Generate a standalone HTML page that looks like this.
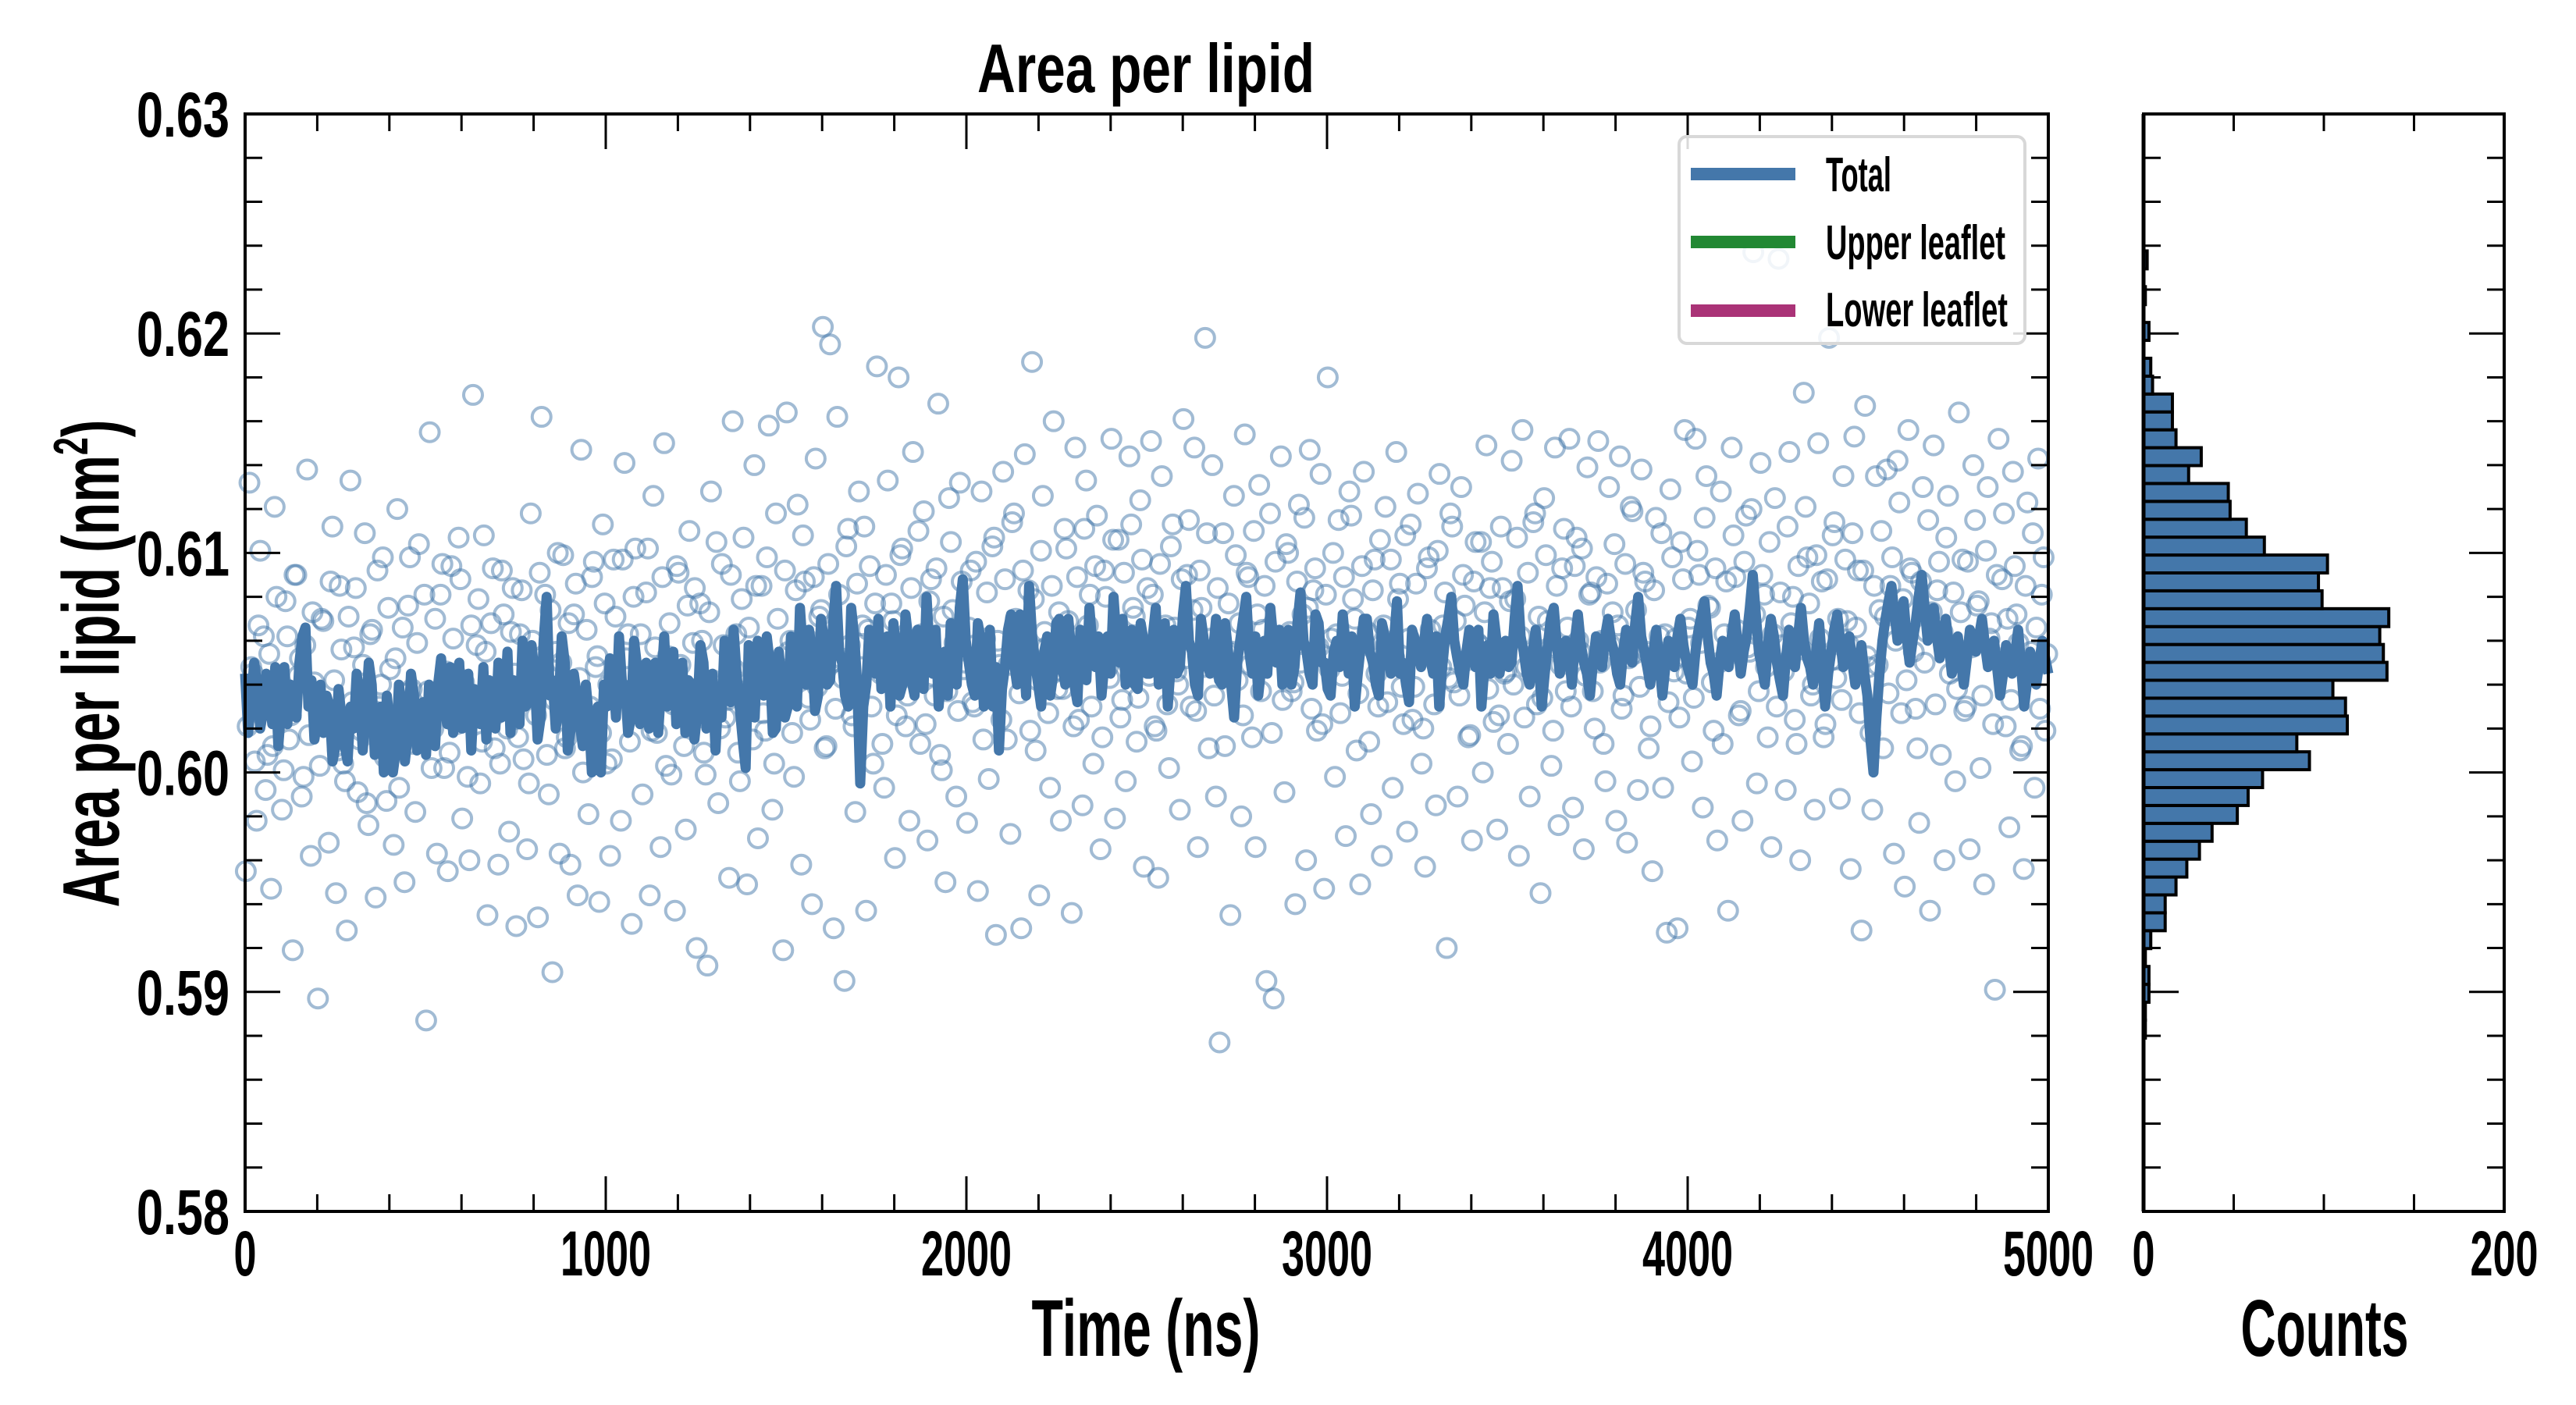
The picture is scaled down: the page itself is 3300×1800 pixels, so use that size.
<!DOCTYPE html>
<html><head><meta charset="utf-8"><style>
html,body{margin:0;padding:0;background:#fff;}
svg{display:block;}
text{font-family:"Liberation Sans Narrow","Liberation Sans",sans-serif;font-weight:bold;fill:#000;}
</style></head><body>
<svg id="chart" width="3300" height="1800" viewBox="0 0 3300 1800" xmlns="http://www.w3.org/2000/svg">
<g id="main"></g>
<g id="hist"></g>
</svg>
<script>
const scatterValues = [
0.5955,0.6132,0.6045,0.5978,0.6101,0.6062,0.6008,0.5947,0.6121,0.6033,0.5983,0.6078,0.6015,0.5919,0.6090,0.6052,0.5998,0.6138,0.5962,0.6041,0.5897,0.6070,0.6024,0.5968,0.6112,
0.5945,0.6085,0.6004,0.5928,0.6133,0.6057,0.5991,0.6019,0.6109,0.5976,0.6065,0.5943,0.6030,0.6098,0.5987,0.6047,0.5967,0.6120,0.6012,0.5950,0.6076,0.6038,0.5982,0.6104,0.6027,
0.5887,0.6155,0.6020,0.5963,0.6081,0.6002,0.5955,0.6094,0.6045,0.6107,0.5979,0.6036,0.5960,0.6172,0.6058,0.5995,0.6108,0.5935,0.6068,0.6011,0.5958,0.6092,0.6029,0.5973,0.6084,
0.5930,0.6063,0.6006,0.5965,0.6118,0.6040,0.5934,0.6162,0.6081,0.5990,0.5909,0.6055,0.5963,0.6099,0.6016,0.5958,0.6072,0.5944,0.6147,0.6025,0.5981,0.6089,0.6048,0.5941,0.6113,
0.6004,0.5962,0.6097,0.6035,0.5978,0.6141,0.6063,0.5931,0.6102,0.6046,0.5990,0.6082,0.5944,0.6126,0.6018,0.5966,0.6150,0.6053,0.5999,0.5937,0.6091,0.6032,0.5974,0.6110,0.6059,
0.5920,0.6077,0.6009,0.5912,0.6128,0.6040,0.5986,0.6095,0.6025,0.5952,0.6160,0.6063,0.5996,0.6107,0.5949,0.6037,0.6140,0.5970,0.6085,0.6019,0.6158,0.5983,0.6118,0.6044,0.5919,
0.6164,0.6060,0.5998,0.6122,0.5958,0.6087,0.6034,0.5940,0.6143,0.6071,0.6203,0.6012,0.6195,0.5929,0.6162,0.6052,0.5905,0.6111,0.6026,0.5982,0.6128,0.6067,0.5937,0.6094,0.6004,
0.6185,0.6045,0.5993,0.6133,0.6077,0.5961,0.6180,0.6102,0.6021,0.5978,0.6146,0.6058,0.6013,0.6119,0.5969,0.6088,0.6035,0.6168,0.6001,0.5950,0.6125,0.6074,0.5989,0.6132,0.6047,
0.5977,0.6092,0.6030,0.5946,0.6128,0.6061,0.5997,0.6103,0.5926,0.6049,0.6137,0.6015,0.5972,0.6118,0.6066,0.5929,0.6145,0.6083,0.6187,0.6010,0.5944,0.6126,0.6057,0.5993,0.6160,
0.6038,0.5978,0.6111,0.6069,0.5936,0.6148,0.6024,0.5985,0.6133,0.6081,0.6004,0.6117,0.5965,0.6092,0.6048,0.6152,0.5979,0.6106,0.6033,0.5996,0.6144,0.6075,0.6014,0.6124,0.5957,
0.6084,0.6151,0.6021,0.5952,0.6135,0.6067,0.6002,0.6113,0.6046,0.5983,0.6161,0.6090,0.6030,0.6148,0.5966,0.6075,0.6198,0.6011,0.6140,0.5989,0.5877,0.6109,0.6055,0.5935,0.6126,
0.6042,0.5980,0.6154,0.6089,0.6016,0.5966,0.6131,0.6065,0.5905,0.6118,0.5897,0.6059,0.6144,0.5991,0.6100,0.6037,0.5940,0.6122,0.6072,0.5960,0.6147,0.6083,0.6019,0.6136,0.5947,
0.6180,0.6061,0.5998,0.6115,0.6044,0.5971,0.6128,0.6079,0.6010,0.5949,0.6137,0.6064,0.5981,0.6097,0.6030,0.5962,0.6121,0.6052,0.5993,0.6146,0.6086,0.6022,0.5973,0.6113,0.6039,
0.6127,0.6004,0.5957,0.6098,0.6052,0.5985,0.6136,0.6067,0.5920,0.6118,0.6041,0.5989,0.6130,0.6076,0.6016,0.5969,0.6105,0.6058,0.6000,0.6149,0.6084,0.6023,0.5974,0.6112,0.6045,
0.6013,0.6142,0.6079,0.5962,0.6156,0.6048,0.5989,0.6114,0.6031,0.5945,0.6125,0.6069,0.6003,0.6148,0.5976,0.6093,0.6037,0.6152,0.5984,0.6107,0.6055,0.5965,0.6139,0.6082,0.6020,
0.6151,0.6060,0.5996,0.6130,0.6073,0.5978,0.6144,0.6035,0.5968,0.6121,0.6054,0.5992,0.6138,0.6087,0.6011,0.5955,0.6116,0.6062,0.5993,0.5927,0.6129,0.6046,0.5929,0.6105,0.6156,
0.6066,0.6005,0.6152,0.6090,0.5984,0.6135,0.6075,0.6019,0.5969,0.6128,0.6063,0.5937,0.6148,0.6089,0.6026,0.5978,0.6117,0.6055,0.6237,0.5995,0.6141,0.6081,0.6016,0.5966,0.6125,
0.6234,0.6058,0.5992,0.6146,0.6080,0.6013,0.5960,0.6173,0.6098,0.6035,0.5983,0.6150,0.6087,0.6022,0.6198,0.6108,0.6043,0.5988,0.6135,0.6069,0.5956,0.6153,0.6092,0.5928,0.6167,
0.6048,0.5983,0.6135,0.6074,0.6011,0.6138,0.6085,0.5963,0.6142,0.6027,0.5948,0.6156,0.6091,0.6029,0.5977,0.6130,0.6064,0.5937,0.6149,0.6083,0.6008,0.5960,0.6126,0.6058,0.5996,
0.6164,0.6097,0.6030,0.5965,0.6140,0.6076,0.6002,0.5949,0.6130,0.6068,0.5901,0.6152,0.6088,0.6021,0.5975,0.6137,0.6072,0.6010,0.5956,0.6123,0.6055,0.5993,0.6143,0.6081,0.6019
];
const scatterValues2 = [
0.6021,0.6048,0.6005,0.6067,0.6030,0.5992,0.6054,0.6012,0.6080,0.6039,0.6001,0.6062,0.6026,0.6090,0.6044,0.5989,0.6058,0.6017,0.6073,0.6034,0.6003,0.6069,0.6025,0.6087,0.6042,
0.6010,0.6056,0.5996,0.6071,0.6032,0.6084,0.6015,0.6049,0.5986,0.6063,0.6028,0.6092,0.6040,0.6007,0.6075,0.6019,0.6052,0.5993,0.6066,0.6036,0.6098,0.6013,0.6059,0.6024,0.6081,
0.6037,0.6002,0.6070,0.6029,0.6095,0.6046,0.6009,0.6061,0.6022,0.6088,0.6041,0.5998,0.6067,0.6031,0.6079,0.6014,0.6055,0.6027,0.6093,0.6038,0.6004,0.6072,0.6020,0.6064,0.6045,
0.6016,0.6083,0.6035,0.5995,0.6060,0.6026,0.6091,0.6047,0.6008,0.6074,0.6033,0.6100,0.6050,0.6011,0.6068,0.6023,0.6086,0.6043,0.6000,0.6065,0.6030,0.6096,0.6053,0.6018,0.6077,
0.6040,0.6006,0.6071,0.6034,0.6097,0.6052,0.6014,0.6080,0.6028,0.6063,0.6045,0.6102,0.6019,0.6057,0.6036,0.6089,0.6003,0.6068,0.6031,0.6094,0.6049,0.6012,0.6076,0.6038,0.6084,
0.6025,0.6060,0.5999,0.6073,0.6042,0.6105,0.6020,0.6058,0.6033,0.6090,0.6047,0.6009,0.6079,0.6037,0.6066,0.6015,0.6085,0.6051,0.6027,0.6098,0.6044,0.6004,0.6070,0.6032,0.6092,
0.6055,0.6018,0.6083,0.6046,0.6108,0.6061,0.6024,0.6089,0.6039,0.6074,0.6011,0.6095,0.6050,0.6029,0.6081,0.6043,0.6103,0.6058,0.6021,0.6086,0.6048,0.6112,0.6065,0.6030,0.6077,
0.6052,0.6013,0.6090,0.6041,0.6069,0.6026,0.6099,0.6057,0.6035,0.6084,0.6047,0.6110,0.6063,0.6022,0.6078,0.6044,0.6093,0.6008,0.6071,0.6037,0.6105,0.6059,0.6028,0.6087,0.6050,
0.6066,0.6032,0.6096,0.6053,0.6015,0.6082,0.6045,0.6107,0.6060,0.6024,0.6088,0.6049,0.6114,0.6070,0.6036,0.6092,0.6055,0.6019,0.6079,0.6042,0.6101,0.6064,0.6027,0.6085,0.6051,
0.6073,0.6038,0.6102,0.6058,0.6021,0.6089,0.6047,0.6111,0.6067,0.6030,0.6094,0.6054,0.6016,0.6080,0.6043,0.6106,0.6062,0.6025,0.6091,0.6050,0.6113,0.6071,0.6034,0.6097,0.6056,
0.6044,0.6081,0.6019,0.6095,0.6057,0.6031,0.6103,0.6066,0.6040,0.6088,0.6052,0.6115,0.6074,0.6028,0.6092,0.6048,0.6109,0.6061,0.6035,0.6084,0.6046,0.6012,0.6077,0.6055,0.6099,
0.6068,0.6026,0.6091,0.6049,0.6110,0.6072,0.6037,0.6085,0.6053,0.6018,0.6096,0.6060,0.6033,0.6104,0.6064,0.6041,0.6087,0.6050,0.6116,0.6075,0.6029,0.6093,0.6057,0.6022,0.6081,
0.6047,0.6100,0.6063,0.6027,0.6089,0.6054,0.6117,0.6070,0.6036,0.6094,0.6058,0.6014,0.6083,0.6045,0.6106,0.6067,0.6032,0.6097,0.6052,0.6079,0.6039,0.6108,0.6061,0.6024,0.6086,
0.6056,0.6020,0.6093,0.6065,0.6031,0.6101,0.6048,0.6082,0.6043,0.6112,0.6069,0.6035,0.6090,0.6051,0.6017,0.6087,0.6059,0.6105,0.6073,0.6038,0.6096,0.6054,0.6026,0.6084,0.6046,
0.6078,0.6040,0.6107,0.6062,0.6025,0.6091,0.6053,0.6118,0.6071,0.6034,0.6099,0.6057,0.6019,0.6085,0.6049,0.6111,0.6066,0.6030,0.6094,0.6060,0.6102,0.6044,0.6081,0.6037,0.6089,
0.6050,0.6013,0.6086,0.6058,0.6104,0.6067,0.6029,0.6095,0.6052,0.6119,0.6074,0.6039,0.6091,0.6055,0.6021,0.6083,0.6047,0.6109,0.6063,0.6032,0.6098,0.6061,0.6025,0.6088,0.6045,
0.6070,0.6034,0.6101,0.6059,0.6116,0.6076,0.6041,0.6093,0.6050,0.6013,0.6087,0.6054,0.6108,0.6065,0.6028,0.6096,0.6057,0.6120,0.6072,0.6037,0.6090,0.6048,0.6105,0.6063,0.6030,
0.6082,0.6046,0.6112,0.6068,0.6024,0.6094,0.6056,0.6121,0.6077,0.6040,0.6099,0.6061,0.6016,0.6088,0.6051,0.6114,0.6070,0.6033,0.6097,0.6058,0.6109,0.6066,0.6027,0.6092,0.6053,
0.6018,0.6085,0.6049,0.6110,0.6071,0.6036,0.6098,0.6060,0.6123,0.6079,0.6042,0.6093,0.6055,0.6011,0.6087,0.6050,0.6115,0.6073,0.6031,0.6096,0.6064,0.6107,0.6045,0.6082,0.6038,
0.6073,0.6028,0.6096,0.6057,0.6115,0.6078,0.6035,0.6101,0.6061,0.6022,0.6090,0.6052,0.6118,0.6070,0.6033,0.6094,0.6059,0.6012,0.6085,0.6047,0.6109,0.6066,0.6029,0.6098,0.6054
];
const scatterTimeStep = 10; // ns
const totalLine = [
0.6045,0.6032,0.6040,0.6028,0.6035,0.6048,0.6030,0.6022,0.6038,0.6050,0.6066,0.6042,0.6025,0.6018,0.6030,0.6012,0.6025,0.6005,0.6020,0.6035,0.6028,0.6040,0.6015,0.6000,0.6022,0.6010,0.6030,0.6018,0.6035,0.6020,
0.6008,0.6025,0.6040,0.6030,0.6048,0.6032,0.6020,0.6045,0.6038,0.6022,0.6015,0.6035,0.6050,0.6030,0.6018,0.6040,0.6060,0.6032,0.6045,0.6025,0.6080,0.6042,0.6030,0.6050,0.6020,0.6035,0.6012,0.6025,0.6005,0.6000,
0.6030,0.6045,0.6062,0.6040,0.6025,0.6048,0.6035,0.6020,0.6050,0.6040,0.6030,0.6055,0.6035,0.6018,0.6040,0.6028,0.6050,0.6032,0.6010,0.6025,0.6048,0.6065,0.6030,0.6002,0.6040,0.6060,0.6035,0.6050,0.6020,0.6038,
0.6030,0.6050,0.6075,0.6040,0.6055,0.6035,0.6060,0.6042,0.6085,0.6050,0.6030,0.6062,0.5995,0.6040,0.6058,0.6070,0.6045,0.6030,0.6055,0.6040,0.6060,0.6035,0.6050,0.6080,0.6045,0.6030,0.6055,0.6068,0.6040,0.6088,
0.6050,0.6035,0.6060,0.6045,0.6030,0.6010,0.6048,0.6072,0.6040,0.6058,0.6085,0.6050,0.6030,0.6062,0.6045,0.6070,0.6040,0.6055,0.6032,0.6060,0.6075,0.6048,0.6035,0.6062,0.6080,0.6050,0.6040,0.6065,0.6038,0.6060,
0.6045,0.6075,0.6050,0.6030,0.6065,0.6048,0.6085,0.6055,0.6035,0.6060,0.6045,0.6070,0.6040,0.6055,0.6025,0.6060,0.6080,0.6045,0.6035,0.6060,0.6075,0.6050,0.6040,0.6065,0.6048,0.6082,0.6055,0.6040,0.6068,0.6050,
0.6035,0.6060,0.6072,0.6045,0.6030,0.6058,0.6070,0.6050,0.6035,0.6062,0.6045,0.6078,0.6050,0.6032,0.6060,0.6048,0.6070,0.6045,0.6030,0.6062,0.6080,0.6052,0.6040,0.6065,0.6048,0.6030,0.6058,0.6072,0.6045,0.6060,
0.6050,0.6085,0.6055,0.6040,0.6065,0.6030,0.6058,0.6075,0.6045,0.6060,0.6040,0.6072,0.6050,0.6035,0.6062,0.6048,0.6070,0.6055,0.6040,0.6065,0.6050,0.6080,0.6055,0.6040,0.6065,0.6035,0.6060,0.6048,0.6070,0.6050,
0.6040,0.6065,0.6078,0.6050,0.6035,0.6060,0.6048,0.6072,0.6045,0.6062,0.6090,0.6055,0.6040,0.6070,0.6050,0.6035,0.6065,0.6048,0.6075,0.6052,0.6040,0.6068,0.6030,0.6055,0.6072,0.6048,0.6062,0.6040,0.6058,0.6035,
0.6000,0.6045,0.6070,0.6085,0.6060,0.6078,0.6050,0.6068,0.6090,0.6060,0.6075,0.6052,0.6070,0.6045,0.6062,0.6040,0.6065,0.6055,0.6070,0.6048,0.6060,0.6035,0.6058,0.6045,0.6065,0.6030,0.6055,0.6040,0.6060,0.6045
];
// samples between consecutive totalLine samples
const totalLineMid = [
0.6018,0.6050,0.6020,0.6045,0.6022,0.6012,0.6048,0.6040,0.6025,0.6062,0.6030,0.6015,0.6040,0.6035,0.6005,0.6038,0.6012,0.6030,0.6045,0.6010,0.6050,0.6008,0.6030,0.6035,0.6000,0.6040,0.6005,0.6045,0.6010,0.6032,
0.6040,0.6012,0.6052,0.6022,0.6018,0.6050,0.6035,0.6010,0.6028,0.6048,0.6042,0.6020,0.6025,0.6055,0.6042,0.6022,0.6030,0.6058,0.6015,0.6060,0.6035,0.6020,0.6062,0.6010,0.6045,0.6022,0.6040,0.6000,0.6030,0.6040,
0.6052,0.6025,0.6040,0.6018,0.6060,0.6022,0.6050,0.6040,0.6018,0.6062,0.6045,0.6022,0.6050,0.6042,0.6015,0.6058,0.6020,0.6045,0.6038,0.6060,0.6032,0.6045,0.6015,0.6058,0.6025,0.6040,0.6062,0.6018,0.6055,0.6025,
0.6062,0.6030,0.6055,0.6065,0.6028,0.6070,0.6040,0.6068,0.6055,0.6035,0.6075,0.6040,0.6030,0.6065,0.6045,0.6038,0.6062,0.6068,0.6035,0.6072,0.6042,0.6065,0.6038,0.6055,0.6065,0.6048,0.6035,0.6050,0.6075,0.6060,
0.6040,0.6068,0.6030,0.6065,0.6048,0.6038,0.6065,0.6050,0.6072,0.6035,0.6062,0.6040,0.6055,0.6035,0.6068,0.6048,0.6070,0.6040,0.6065,0.6042,0.6058,0.6062,0.6050,0.6045,0.6060,0.6070,0.6048,0.6040,0.6068,0.6045,
0.6062,0.6040,0.6068,0.6050,0.6045,0.6072,0.6060,0.6040,0.6070,0.6050,0.6055,0.6042,0.6068,0.6040,0.6050,0.6070,0.6055,0.6062,0.6048,0.6045,0.6060,0.6065,0.6052,0.6040,0.6068,0.6060,0.6045,0.6072,0.6050,0.6038,
0.6055,0.6048,0.6058,0.6062,0.6045,0.6070,0.6055,0.6040,0.6068,0.6052,0.6060,0.6045,0.6040,0.6065,0.6055,0.6060,0.6052,0.6062,0.6048,0.6070,0.6060,0.6045,0.6055,0.6052,0.6065,0.6048,0.6045,0.6060,0.6055,0.6048,
0.6070,0.6062,0.6045,0.6055,0.6050,0.6045,0.6070,0.6058,0.6052,0.6055,0.6060,0.6058,0.6045,0.6050,0.6058,0.6062,0.6060,0.6045,0.6055,0.6058,0.6068,0.6062,0.6048,0.6055,0.6050,0.6048,0.6055,0.6062,0.6058,0.6045,
0.6055,0.6072,0.6062,0.6045,0.6050,0.6055,0.6062,0.6058,0.6055,0.6075,0.6072,0.6048,0.6058,0.6062,0.6042,0.6052,0.6055,0.6062,0.6060,0.6048,0.6055,0.6050,0.6045,0.6065,0.6060,0.6055,0.6050,0.6048,0.6045,0.6015,
0.6025,0.6060,0.6078,0.6072,0.6070,0.6062,0.6060,0.6080,0.6075,0.6068,0.6062,0.6062,0.6058,0.6055,0.6050,0.6052,0.6060,0.6062,0.6058,0.6055,0.6048,0.6045,0.6050,0.6055,0.6048,0.6042,0.6048,0.6050,0.6052
];
const lineTimeEnd = 5000;
// histogram counts from lowest bin to highest bin
const histCounts = [1,1,3,3,1,4,12,12,18,24,31,38,52,58,66,92,85,113,112,105,135,133,131,136,99,97,102,67,57,48,47,25,32,18,16,16,5,4,0,3,0,1,0,2];
const histBinLow = 0.5879;
const histBinWidth = 0.000815;
const xTickLabels = ["0","1000","2000","3000","4000","5000"];
const xTickValues = [0,1000,2000,3000,4000,5000];
const yTickLabels = ["0.58","0.59","0.60","0.61","0.62","0.63"];
const yTickValues = [0.58,0.59,0.60,0.61,0.62,0.63];
const histXTickValues = [0,50,100,150,200];
const histXTickLabels = ["0","","","","200"];

const NS="http://www.w3.org/2000/svg";
const main=document.getElementById('main'), hist=document.getElementById('hist');
const L=314,R=2624,T=146,B=1552, HL=2746,HR=3208;
const X0=0,X1=5000,Y0=0.58,Y1=0.63;
const xs=v=>L+(v-X0)/(X1-X0)*(R-L);
const ys=v=>B-(v-Y0)/(Y1-Y0)*(B-T);
const hx=v=>HL+v/200*(HR-HL);
function mk(tag,attrs,parent){const e=document.createElementNS(NS,tag);for(const k in attrs)e.setAttribute(k,attrs[k]);parent.appendChild(e);return e;}

// scatter
const sg=mk('g',{},main);


function drawPts(arr,offset){arr.forEach((v,i)=>{
  const c=mk('circle',{cx:xs(i*scatterTimeStep+offset),cy:ys(v),r:12,fill:'none',stroke:'rgba(68,119,170,0.5)','stroke-width':4},sg);
  
  
});}
drawPts(scatterValues,2);
drawPts(scatterValues2,7);
// line
const lineAll=[];
totalLine.forEach((v,i)=>{lineAll.push(v);if(i<totalLine.length-1&&i<totalLineMid.length)lineAll.push(totalLineMid[i]);});
let d='';
lineAll.forEach((v,i)=>{d+=(i?'L':'M')+xs(i*lineTimeEnd/(lineAll.length-1)).toFixed(1)+','+ys(v).toFixed(1);});
const ln=mk('path',{d:d,fill:'none',stroke:'#4477aa','stroke-width':13,'stroke-linejoin':'round'},main);



// frames
const fr=mk('rect',{x:L,y:T,width:R-L,height:B-T,fill:'none',stroke:'#000','stroke-width':4},main);


const hf=mk('rect',{x:HL,y:T,width:HR-HL,height:B-T,fill:'none',stroke:'#000','stroke-width':4},hist);



function tick(x1,y1,x2,y2,p,w){const t=mk('line',{x1,y1,x2,y2,stroke:'#000','stroke-width':w||3},p);}
for(let v=0;v<=5000;v+=200){const maj=v%1000===0;const len=maj?45:22;tick(xs(v),B,xs(v),B-len,main);tick(xs(v),T,xs(v),T+len,main);}
for(let k=0;k<=25;k++){const v=0.58+k*0.002;const maj=k%5===0;const len=maj?45:22;const y=ys(v);
  tick(L,y,L+len,y,main);tick(R,y,R-len,y,main);tick(HL,y,HL+len,y,hist);tick(HR,y,HR-len,y,hist);}
histXTickValues.forEach(v=>{tick(hx(v),B,hx(v),B-22,hist);tick(hx(v),T,hx(v),T+22,hist);});

function txt(s,x,y,size,anchor,len,p,name){const t=mk('text',{x,y,'font-size':size,'text-anchor':anchor||'middle'},p);if(len){t.setAttribute('textLength',len);t.setAttribute('lengthAdjust','spacingAndGlyphs');}t.textContent=s;return t;}
const cw=s=>[...s].reduce((a,c)=>a+(c==='.'?17:29),0);
xTickLabels.forEach((s,i)=>txt(s,xs(xTickValues[i]),1634,82,'middle',cw(s),main,'x-tick-label'));
yTickLabels.forEach((s,i)=>txt(s,294,ys(yTickValues[i])+29,82,'end',cw(s)+15,main,'y-tick-label'));
histXTickValues.forEach((v,i)=>{if(histXTickLabels[i])txt(histXTickLabels[i],hx(v),1634,82,'middle',cw(histXTickLabels[i]),hist,'hist-x-tick-label');});

histCounts.forEach((c,i)=>{if(!c)return;const lo=histBinLow+i*histBinWidth;const y1=ys(lo+histBinWidth),y2=ys(lo);
  const b=mk('rect',{x:HL,y:y1,width:hx(c)-HL,height:y2-y1,fill:'#4477aa',stroke:'#000','stroke-width':4},hist);
  
  });
tick(HL,T,HL,B,hist,5);

txt('Area per lipid',1468,118,88,'middle',432,main,'chart-title');
txt('Time (ns)',1468,1737,103,'middle',293,main,'x-axis-title');
txt('Counts',2978,1737,103,'middle',215,hist,'hist-x-axis-title');
const yl=mk('text',{x:0,y:0,'font-size':103,'text-anchor':'middle',transform:'translate(152,850) rotate(-90)'},main);


yl.setAttribute('textLength',625);yl.setAttribute('lengthAdjust','spacingAndGlyphs');
yl.innerHTML='Area per lipid (nm<tspan dy="-40" font-size="62">2</tspan><tspan dy="40">)</tspan>';

const lg=mk('g',{},main);


const lb=mk('rect',{x:2151,y:175,width:443,height:265,rx:10,fill:'rgba(255,255,255,0.85)',stroke:'#d8d8d8','stroke-width':4},lg);


const entries=[['Total','#4477aa',223,245,84],['Upper leaflet','#228833',310,332,230],['Lower leaflet','#aa3377',398,418,233]];
entries.forEach(e=>{const l=mk('line',{x1:2166,y1:e[2],x2:2300,y2:e[2],stroke:e[1],'stroke-width':16},lg);
  
  
  txt(e[0],2339,e[3],62,'start',e[4],lg,'legend-entry-label');});
</script>
</body></html>
